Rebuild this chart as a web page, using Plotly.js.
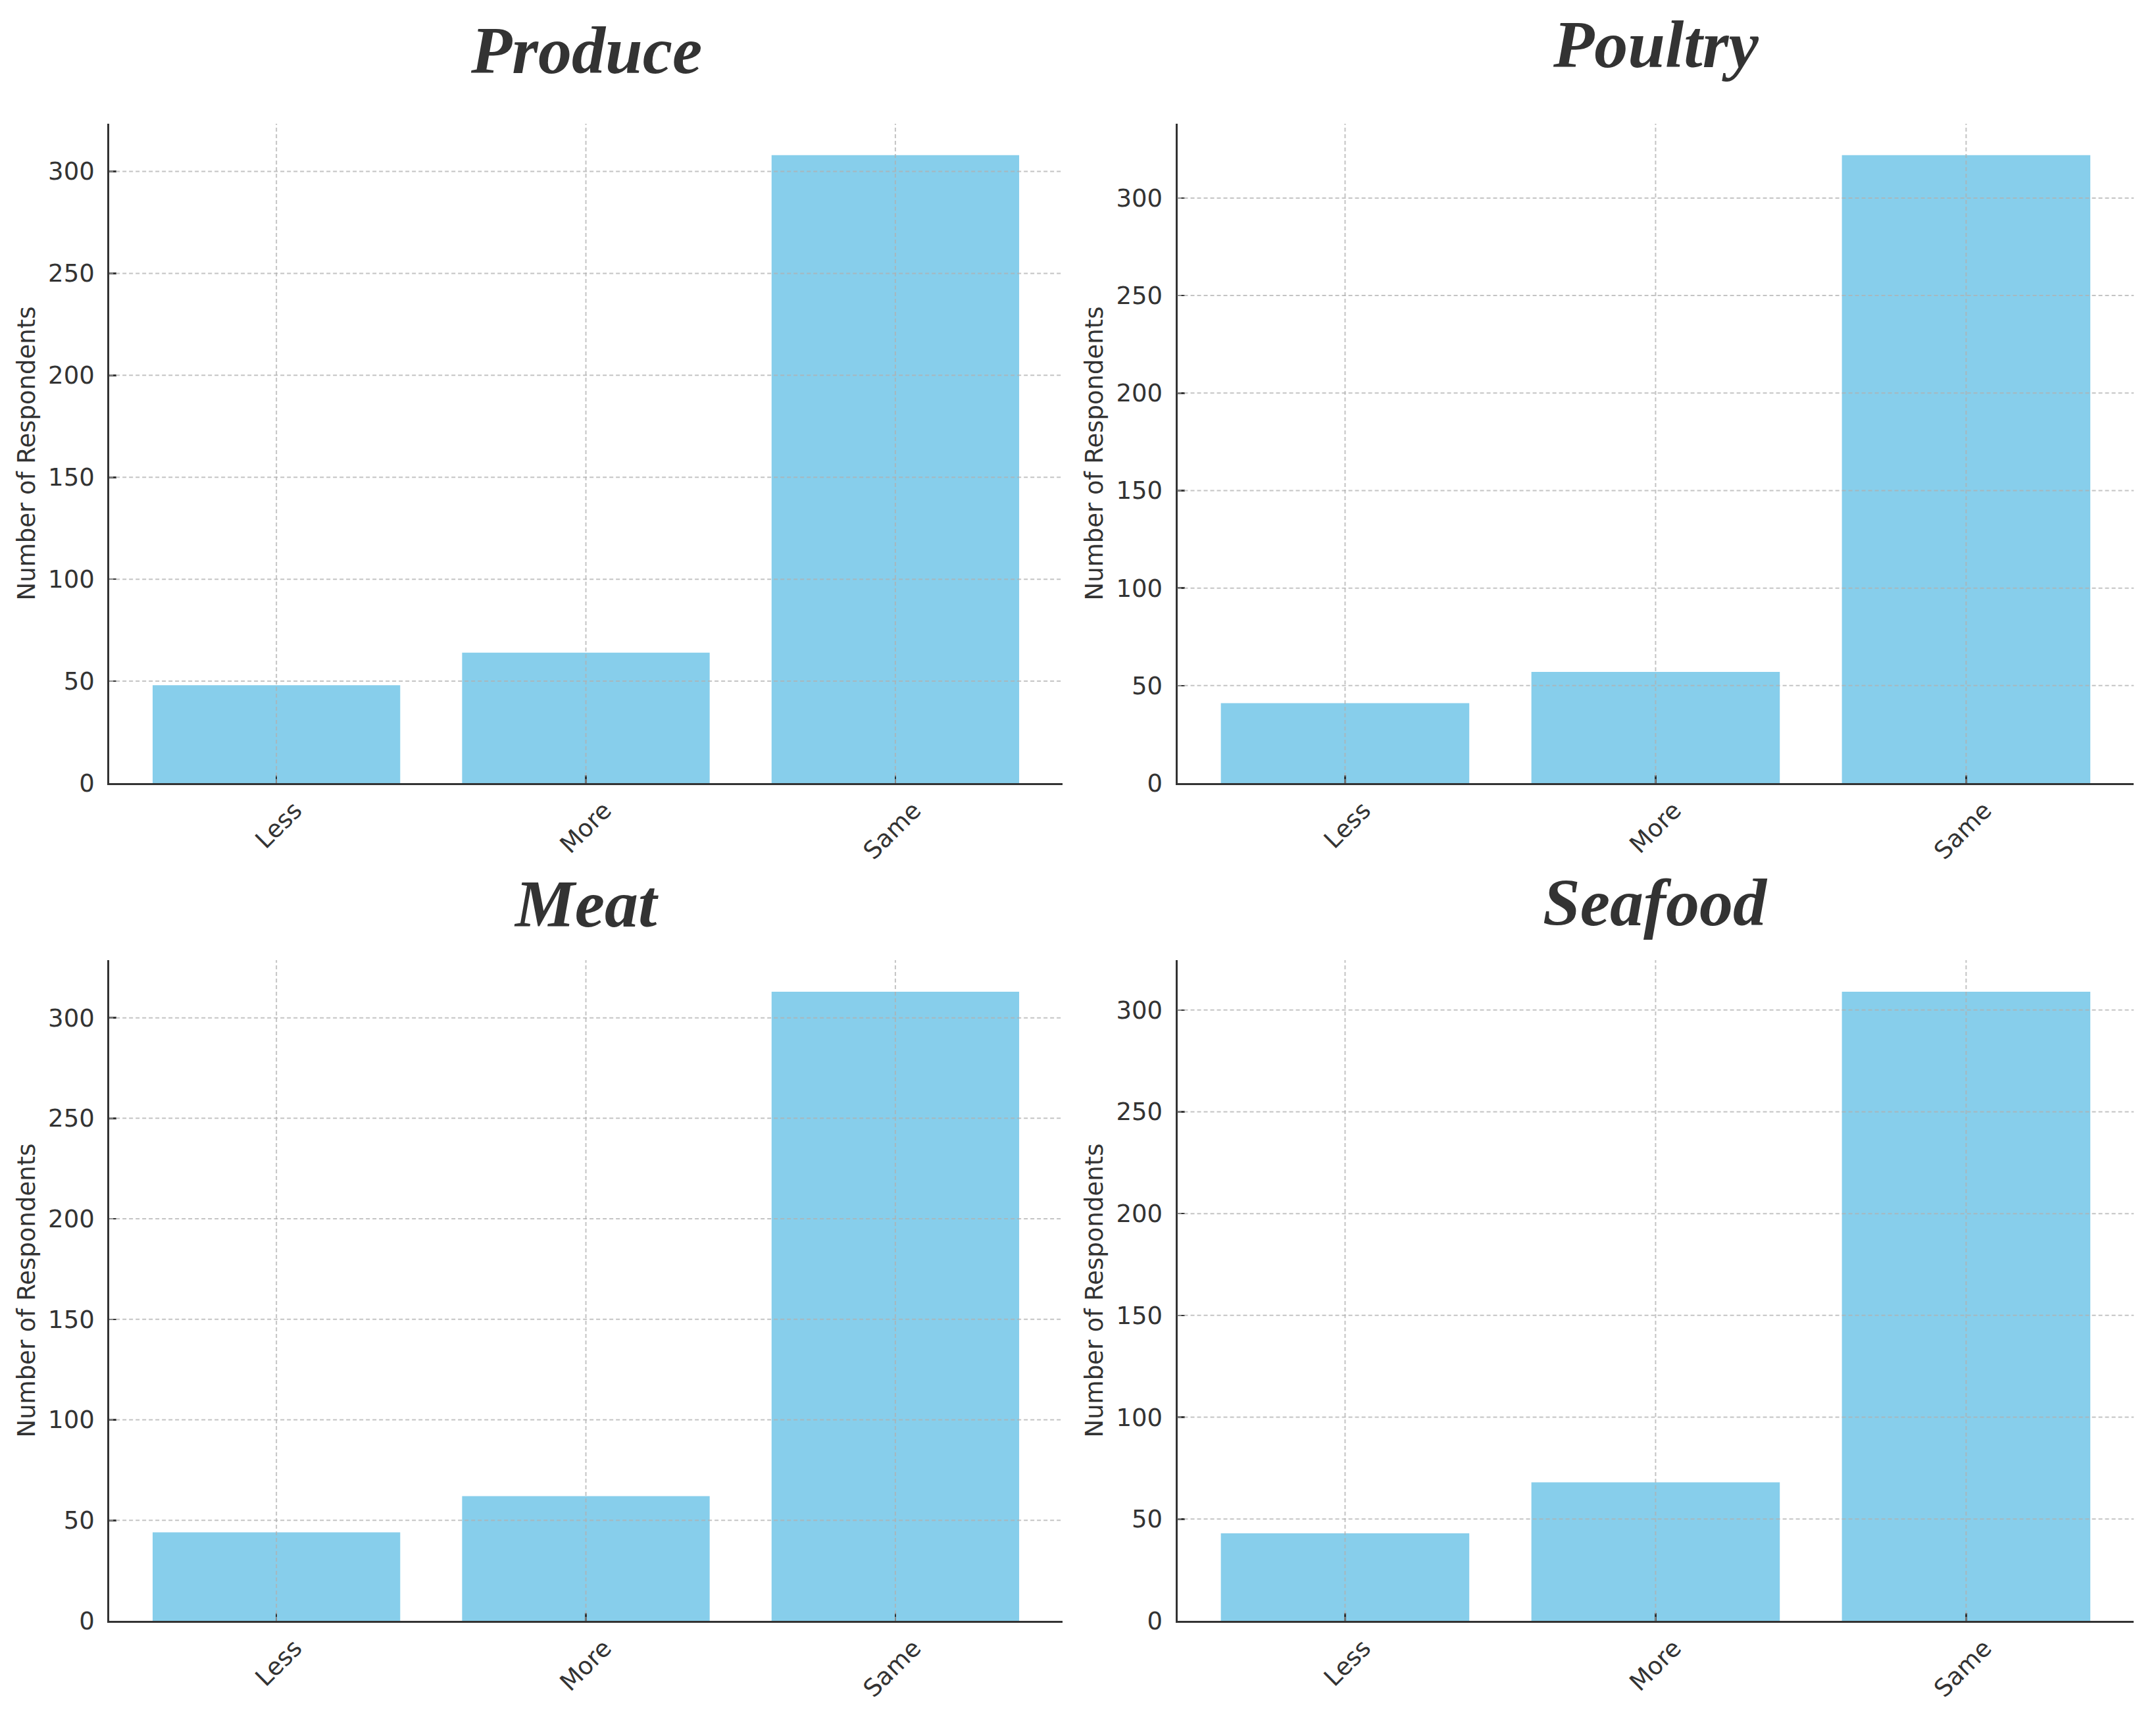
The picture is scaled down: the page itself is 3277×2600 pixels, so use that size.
<!DOCTYPE html>
<html>
<head>
<meta charset="utf-8">
<script src="https://cdn.plot.ly/plotly-3.0.1.min.js"></script>
<style>html,body{margin:0;padding:0;background:#fff;}#chart{width:3277px;height:2600px;}</style>
</head>
<body>
<div id="chart"></div>
<script>
// ---- data ----
const categories = ['Less', 'More', 'Same'];
const produceCounts = [48, 64, 308];
const poultryCounts = [41, 57, 322];
const meatCounts = [44, 62, 313];
const seafoodCounts = [43, 68, 309];
const panelTitles = ['Produce', 'Poultry', 'Meat', 'Seafood'];
const yTickVals = [0, 50, 100, 150, 200, 250, 300];
const yAxisLabel = 'Number of Respondents';

// ---- styling ----
const W = 3277, H = 2600;
const barColor = '#87CEEB';
const inkColor = '#333333';
const gridColor = 'rgba(176,176,176,0.75)';
const tickFont = {family: 'DejaVu Sans', size: 37, color: inkColor};
const titleFont = {family: 'Liberation Serif', size: 102, color: inkColor, weight: 'bold', style: 'italic'};

const series = [produceCounts, poultryCounts, meatCounts, seafoodCounts];
// panel domains (paper fractions)
const xDomains = [[0.0507, 0.4928], [0.5461, 0.9897], [0.0507, 0.4928], [0.5461, 0.9897]];
const yDomains = [[0.5423, 0.9277], [0.5423, 0.9277], [0.0527, 0.4388], [0.0527, 0.4388]];
const titleY = [0.9481, 0.9515, 0.4492, 0.4500];

const data = [];
const layout = {
  width: W, height: H,
  margin: {l: 0, r: 0, t: 0, b: 0},
  paper_bgcolor: '#ffffff', plot_bgcolor: 'rgba(0,0,0,0)',
  showlegend: false,
  bargap: 0.2,
  shapes: [],
  annotations: []
};

series.forEach((vals, i) => {
  const n = i + 1;
  const xa = 'x' + (n === 1 ? '' : n);
  const ya = 'y' + (n === 1 ? '' : n);
  data.push({
    type: 'bar', x: categories, y: vals,
    xaxis: xa, yaxis: ya,
    marker: {color: barColor, line: {width: 0}},
    hoverinfo: 'skip'
  });
  const ymax = Math.max(...vals) * 1.05;
  layout['xaxis' + (n === 1 ? '' : n)] = {
    domain: xDomains[i], anchor: ya,
    type: 'category', categoryorder: 'array', categoryarray: categories,
    range: [-0.54, 2.54],
    showgrid: false, zeroline: false,
    showline: true, linecolor: inkColor, linewidth: 3,
    ticks: 'inside', ticklen: 12, tickwidth: 2.5, tickcolor: inkColor,
    tickangle: -45, tickfont: tickFont,
    ticklabelshift: 28, ticklabelstandoff: 2,
    layer: 'above traces', automargin: false, fixedrange: true
  };
  layout['yaxis' + (n === 1 ? '' : n)] = {
    domain: yDomains[i], anchor: xa,
    range: [0, ymax],
    tickvals: yTickVals, ticktext: yTickVals.map(String),
    showgrid: false, zeroline: false,
    showline: true, linecolor: inkColor, linewidth: 3,
    ticks: 'inside', ticklen: 11, tickwidth: 2.5, tickcolor: inkColor,
    tickfont: tickFont, ticklabelstandoff: 12,
    title: {text: yAxisLabel, font: tickFont, standoff: 9},
    layer: 'above traces', automargin: false, fixedrange: true
  };
  // dashed grid drawn above bars, derived from tick values and categories
  yTickVals.filter(v => v > 0 && v <= ymax).forEach(v => {
    layout.shapes.push({
      type: 'line', layer: 'above',
      xref: xa + ' domain', yref: ya,
      x0: 0, x1: 1, y0: v, y1: v,
      line: {color: gridColor, width: 2, dash: '6px,4px'}
    });
  });
  categories.forEach(c => {
    layout.shapes.push({
      type: 'line', layer: 'above',
      xref: xa, yref: ya + ' domain',
      x0: c, x1: c, y0: 0, y1: 1,
      line: {color: gridColor, width: 2, dash: '6px,4px'}
    });
  });
  layout.annotations.push({
    text: panelTitles[i], showarrow: false,
    xref: 'paper', yref: 'paper',
    x: (xDomains[i][0] + xDomains[i][1]) / 2, y: titleY[i],
    xanchor: 'center', yanchor: 'bottom',
    font: titleFont
  });
});

Plotly.newPlot('chart', data, layout, {staticPlot: true, displayModeBar: false});
</script>
</body>
</html>
